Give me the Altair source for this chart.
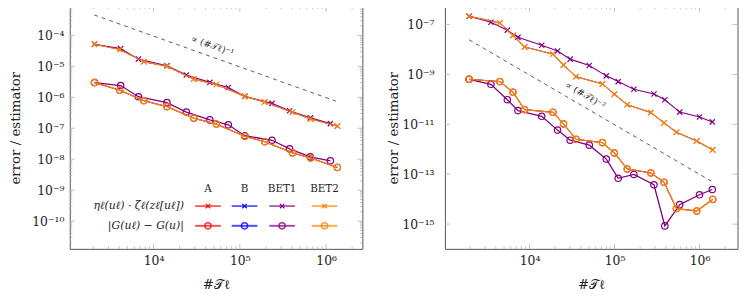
import altair as alt
import pandas as pd

# ---------------- data ----------------
series = ["A", "B", "BET1", "BET2"]
colors = ["#ff0000", "#0000ff", "#800080", "#ff8000"]

# left panel (estimator product / goal error)
L_N_bet1 = [2070, 4160, 6680, 14300, 24000, 44900, 73600, 114000, 236000, 377000, 656000, 1120000]
L_est_bet1 = [5.15e-5, 3.73e-5, 1.71e-5, 1.04e-5, 5.26e-6, 3.03e-6, 2.07e-6, 1.07e-6, 6.37e-7, 3.66e-7, 2.19e-7, 1.41e-7]
L_err_bet1 = [2.99e-6, 2.39e-6, 1.04e-6, 6.70e-7, 3.33e-7, 1.86e-7, 1.29e-7, 5.73e-8, 4.09e-8, 2.15e-8, 1.19e-8, 8.9e-9]
L_N_bet2 = [2070, 4050, 7720, 14300, 29200, 53600, 114000, 194000, 408000, 661000, 1350000]
L_est_bet2 = [5.15e-5, 3.52e-5, 1.40e-5, 1.01e-5, 3.86e-6, 2.58e-6, 1.07e-6, 7.0e-7, 3.28e-7, 2.0e-7, 1.17e-7]
L_err_bet2 = [2.99e-6, 1.69e-6, 7.76e-7, 4.99e-7, 2.11e-7, 1.36e-7, 5.48e-8, 3.68e-8, 1.60e-8, 1.09e-8, 5.43e-9]
# A and B coincide with BET2 at this resolution (hidden beneath it)
L_N_A, L_est_A, L_err_A = L_N_bet2, L_est_bet2, L_err_bet2
L_N_B, L_est_B, L_err_B = L_N_bet2, L_est_bet2, L_err_bet2

# right panel
R_N_bet1 = [1945, 3512, 5482, 7306, 13910, 21370, 30060, 50460, 80020, 110400, 168800, 291000, 390900, 584800, 1000000, 1414000]
R_est_bet1 = [2.13e-7, 1.234e-7, 5.94e-8, 3.05e-8, 1.47e-8, 8.73e-9, 4.09e-9, 2.28e-9, 8.74e-10, 5.14e-10, 2.55e-10, 1.64e-10, 9.66e-11, 3.08e-11, 1.95e-11, 1.25e-11]
R_err_bet1 = [6.35e-10, 4.02e-10, 9.66e-11, 3.54e-11, 2.10e-11, 5.85e-12, 2.31e-12, 1.46e-12, 4.03e-13, 6.85e-14, 9.78e-14, 3.78e-14, 8.47e-16, 6.04e-15, 1.50e-14, 2.44e-14]
R_N_bet2 = [1945, 4470, 6390, 8740, 18840, 25110, 35300, 72100, 99500, 141000, 267700, 382700, 535000, 927500, 1433000]
R_est_bet2 = [2.13e-7, 1.157e-7, 3.66e-8, 1.26e-8, 6.52e-9, 2.36e-9, 8.12e-10, 4.17e-10, 1.61e-10, 6.12e-11, 2.95e-11, 1.14e-11, 4.79e-12, 2.14e-12, 9.42e-13]
R_err_bet2 = [6.35e-10, 5.14e-10, 1.94e-10, 3.88e-11, 3.03e-11, 1.04e-11, 2.51e-12, 1.84e-12, 7.16e-13, 1.62e-13, 1.12e-13, 4.75e-14, 4.19e-15, 3.36e-15, 9.8e-15]
R_N_A, R_est_A, R_err_A = R_N_bet2, R_est_bet2, R_err_bet2
R_N_B, R_est_B, R_err_B = R_N_bet2, R_est_bet2, R_err_bet2

# reference slopes
L_ref_N = [2056, 1300000]
L_ref_val = [4.56e-4, 7.5e-7]
L_ref_label = "∝ (#𝒯ℓ)⁻¹"
L_ref_label_pos = (48200, 4.55e-5)
R_ref_N = [1945, 1368000]
R_ref_val = [2.45e-8, 5.3e-14]
R_ref_label = "∝ (#𝒯ℓ)⁻²"
R_ref_label_pos = (45300, 1.43e-10)

# axes
L_x_dom = [1070, 2.63e6]
L_y_dom = [1.27e-11, 8.45e-4]
R_x_dom = [1010, 2.8e6]
R_y_dom = [1.02e-16, 5.18e-7]
x_major = [1e4, 1e5, 1e6]
L_y_major = [1e-10, 1e-9, 1e-8, 1e-7, 1e-6, 1e-5, 1e-4]
R_y_major = [1e-15, 1e-13, 1e-11, 1e-9, 1e-7]

legend_rows = ["ηℓ(uℓ) · ζℓ(zℓ[uℓ])", "|G(uℓ) − G(u)|"]

# ---------------- styling ----------------
W, H = 296, 245
FONT = "DejaVu Serif"
TXT = "#222222"
TICK = "#b0b0b0"
CROSS = "M-1,-1L1,1M1,-1L-1,1"

sup_map = {'-': '⁻', '0': '⁰', '1': '¹', '2': '²', '3': '³', '4': '⁴',
           '5': '⁵', '6': '⁶', '7': '⁷', '8': '⁸', '9': '⁹'}
e = "''+round(log(datum.value)/LN10)"
for k, v in sup_map.items():
    e = f"replace({e}, regexp('{k}','g'), '{v}')"
LABEL_EXPR = "'10'+" + e


def minor_ticks(dom):
    out = []
    for k in range(-17, 8):
        for m in range(2, 10):
            v = m * 10.0 ** k
            if dom[0] < v < dom[1]:
                out.append(v)
    return out


def one():
    return pd.DataFrame({"o": [0]})


def panel(data, ref_N, ref_val, ref_label, ref_pos, ref_angle,
          x_dom, y_dom, y_major, y_minor_on, ylab_pad, ytitle_x, legend):
    xs = alt.Scale(type="log", domain=x_dom, nice=False)
    ys = alt.Scale(type="log", domain=y_dom, nice=False)
    xa = alt.Axis(values=x_major, labelExpr=LABEL_EXPR, title="#𝒯ℓ", ticks=False,
                  domain=False, grid=False, labelPadding=6, titleY=29)
    ya = alt.Axis(values=y_major, labelExpr=LABEL_EXPR, title="error / estimator",
                  ticks=False, domain=False, grid=False, labelPadding=ylab_pad,
                  titleX=ytitle_x)

    def X(f):
        return alt.X(f"{f}:Q", scale=xs, axis=xa)

    def Y(f):
        return alt.Y(f"{f}:Q", scale=ys, axis=ya)

    layers = []
    # ticks (inside frame, all four sides)
    xmin = minor_ticks(x_dom)
    for vals, ln in [(x_major, 5), (xmin, 2.5)]:
        df = pd.DataFrame({"t": vals})
        base = alt.Chart(df).mark_rule(color=TICK, strokeWidth=0.8)
        layers.append(base.encode(x=X("t"), y=alt.value(H), y2=alt.value(H - ln)))
        layers.append(base.encode(x=X("t"), y=alt.value(0), y2=alt.value(ln)))
    ysets = [(y_major, 5)]
    if y_minor_on:
        ysets.append((minor_ticks(y_dom), 2.5))
    for vals, ln in ysets:
        df = pd.DataFrame({"t": vals})
        base = alt.Chart(df).mark_rule(color=TICK, strokeWidth=0.8)
        layers.append(base.encode(y=Y("t"), x=alt.value(0), x2=alt.value(ln)))
        layers.append(base.encode(y=Y("t"), x=alt.value(W), x2=alt.value(W - ln)))

    # reference slope
    rdf = pd.DataFrame({"N": ref_N, "v": ref_val})
    layers.append(alt.Chart(rdf).mark_line(color="#333333", strokeWidth=0.8,
                                           strokeDash=[4, 4]).encode(x=X("N"), y=Y("v")))
    ldf = pd.DataFrame({"N": [ref_pos[0]], "v": [ref_pos[1]], "s": [ref_label]})
    layers.append(alt.Chart(ldf).mark_text(font=FONT, fontSize=9.5, color="#333333",
                                           angle=ref_angle).encode(
        x=X("N"), y=Y("v"), text="s:N"))

    # data series (A, B drawn thin beneath BET2, which covers them)
    for s, c in zip(series, colors):
        N, est, err = data[s]
        hidden = s in ("A", "B")
        lw = 0.6 if hidden else 1.1
        mw = 0.6 if hidden else 1.2
        edf = pd.DataFrame({"N": N, "v": est})
        rdf2 = pd.DataFrame({"N": N, "v": err})
        layers.append(alt.Chart(edf).mark_line(color=c, strokeWidth=lw).encode(x=X("N"), y=Y("v")))
        layers.append(alt.Chart(edf).mark_point(shape=CROSS, color=c, size=28, strokeWidth=mw,
                                                filled=False, opacity=1).encode(x=X("N"), y=Y("v")))
        layers.append(alt.Chart(rdf2).mark_line(color=c, strokeWidth=lw + 0.2).encode(x=X("N"), y=Y("v")))
        layers.append(alt.Chart(rdf2).mark_point(shape="circle", color=c, size=42, strokeWidth=mw,
                                                 filled=False, opacity=1).encode(x=X("N"), y=Y("v")))

    if legend:
        cx = [139.8, 176.8, 214.8, 257.7]
        y_head, y_r1, y_r2 = 184, 201.7, 221.7
        for s, c, x0 in zip(series, colors, cx):
            layers.append(alt.Chart(one()).mark_text(font=FONT, fontSize=10.5, color=TXT).encode(
                x=alt.value(x0), y=alt.value(y_head), text=alt.value(s)))
            layers.append(alt.Chart(one()).mark_rule(color=c, strokeWidth=1.2).encode(
                x=alt.value(x0 - 13), x2=alt.value(x0 + 13), y=alt.value(y_r1)))
            layers.append(alt.Chart(one()).mark_point(shape=CROSS, color=c, size=20, strokeWidth=1.2,
                                                      filled=False, opacity=1).encode(
                x=alt.value(x0), y=alt.value(y_r1)))
            layers.append(alt.Chart(one()).mark_rule(color=c, strokeWidth=2, opacity=0.7).encode(
                x=alt.value(x0 - 13), x2=alt.value(x0 + 13), y=alt.value(y_r2)))
            layers.append(alt.Chart(one()).mark_point(shape="circle", color=c, size=40, strokeWidth=1.4,
                                                      filled=False, opacity=0.8).encode(
                x=alt.value(x0), y=alt.value(y_r2)))
        for lab, yy in zip(legend_rows, [y_r1, y_r2]):
            layers.append(alt.Chart(one()).mark_text(font=FONT, fontSize=11, color=TXT, align="right",
                                                     fontStyle="italic").encode(
                x=alt.value(115.5), y=alt.value(yy), text=alt.value(lab)))

    return alt.layer(*layers).properties(width=W, height=H)


left = panel({"A": (L_N_A, L_est_A, L_err_A), "B": (L_N_B, L_est_B, L_err_B),
              "BET1": (L_N_bet1, L_est_bet1, L_err_bet1), "BET2": (L_N_bet2, L_est_bet2, L_err_bet2)},
             L_ref_N, L_ref_val, L_ref_label, L_ref_label_pos, 19.4,
             L_x_dom, L_y_dom, L_y_major, True, 6, -47.5, True)
right = panel({"A": (R_N_A, R_est_A, R_err_A), "B": (R_N_B, R_est_B, R_err_B),
               "BET1": (R_N_bet1, R_est_bet1, R_err_bet1), "BET2": (R_N_bet2, R_est_bet2, R_err_bet2)},
              R_ref_N, R_ref_val, R_ref_label, R_ref_label_pos, 30.2,
              R_x_dom, R_y_dom, R_y_major, False, 11, -45, False)

chart = alt.hconcat(left, right, spacing=22.5).properties(
    padding={"left": 0.5, "top": -4, "right": 0, "bottom": 0}
).configure_view(stroke="#555555", strokeWidth=1).configure_axis(
    labelFont=FONT, labelFontSize=12.5, labelColor=TXT,
    titleFont=FONT, titleFontSize=13.5, titleColor=TXT, titleFontWeight="normal"
)

chart.save("out.html", embed_options={"renderer": "svg", "actions": False})
